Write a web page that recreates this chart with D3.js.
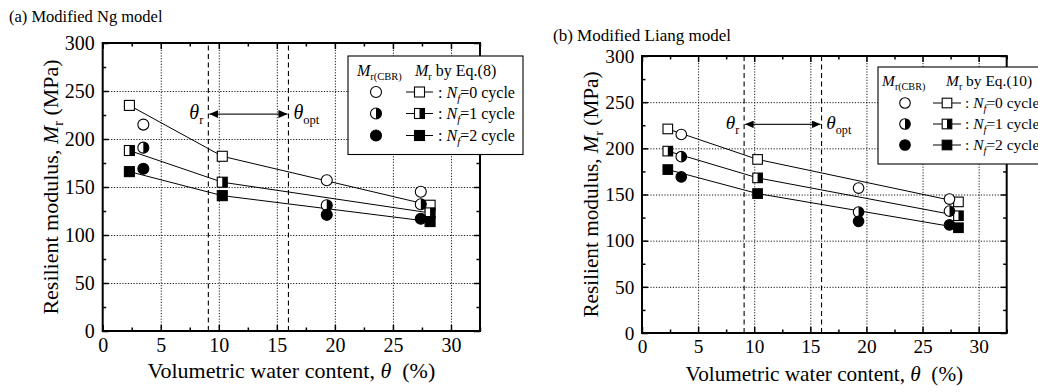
<!DOCTYPE html>
<html><head><meta charset="utf-8">
<script src="https://cdn.jsdelivr.net/npm/d3@7"></script>
<style>
body{margin:0;background:#fff;}
svg, svg text, svg tspan{font-family:"Liberation Serif","Times New Roman",Times,serif !important;}
</style>
</head><body>
<svg id="c" width="1038" height="392"></svg>
<script>
// ---- data ----
const xModel = [2.3, 10.3, 28.2];
const xCBR = [3.5, 19.3, 27.4];
const cbr0 = [215, 157, 145];
const cbr1 = [191, 131, 132];
const cbr2 = [169, 121, 117];
const ng0 = [235, 182, 131];
const ng1 = [188, 155, 123];
const ng2 = [166, 141, 114];
const liang0 = [221, 188, 142];
const liang1 = [197, 168, 127];
const liang2 = [177, 151, 114];
const thetaR = 9.1, thetaOpt = 16.0;
const arrowLevel = 226;
const xTicks = [0, 5, 10, 15, 20, 25, 30];
const yTicks = [0, 50, 100, 150, 200, 250, 300];
const xMinor = [2.5, 7.5, 12.5, 17.5, 22.5, 27.5, 32.5];
const yMinor = [25, 75, 125, 175, 225, 275];
const cycleLabels = ["0", "1", "2"];
const fills = ["open", "half", "full"];

const svg = d3.select("#c");
const defs = svg.append("defs");
function arrowMarker(id, len, wid) {
  const m = defs.append("marker").attr("id", id)
    .attr("viewBox", "0 0 10 10").attr("refX", 10).attr("refY", 5)
    .attr("markerWidth", len).attr("markerHeight", wid)
    .attr("markerUnits", "userSpaceOnUse").attr("orient", "auto-start-reverse")
    .attr("preserveAspectRatio", "none");
  m.append("path").attr("d", "M0,0 L10,5 L0,10 Z").attr("fill", "#000");
}
arrowMarker("arrA", 9, 8);
arrowMarker("arrB", 8.5, 7.5);

function drawSquare(g, cx, cy, sz, kind) {
  const h = sz / 2;
  g.append("rect").attr("x", cx - h).attr("y", cy - h).attr("width", sz).attr("height", sz)
    .attr("fill", kind === "full" ? "#000" : "#fff");
  if (kind === "half") g.append("rect").attr("x", cx).attr("y", cy - h).attr("width", h).attr("height", sz).attr("fill", "#000");
  g.append("rect").attr("x", cx - h).attr("y", cy - h).attr("width", sz).attr("height", sz)
    .attr("fill", "none").attr("stroke", "#000").attr("stroke-width", 1.1);
}
function drawCircle(g, cx, cy, r, kind) {
  g.append("circle").attr("cx", cx).attr("cy", cy).attr("r", r).attr("fill", kind === "full" ? "#000" : "#fff");
  if (kind === "half") g.append("path")
    .attr("d", `M${cx},${cy - r} A${r},${r} 0 0 1 ${cx},${cy + r} Z`).attr("fill", "#000");
  g.append("circle").attr("cx", cx).attr("cy", cy).attr("r", r).attr("fill", "none")
    .attr("stroke", "#000").attr("stroke-width", 1.1);
}
function subText(sel, parts) {
  let shift = 0;
  parts.forEach(p => {
    const t = sel.append("tspan").text(p.t);
    if (p.i) t.attr("font-style", "italic");
    const want = p.sub ? p.sub : 0;
    if (want !== shift) { t.attr("dy", want - shift); shift = want; }
    if (p.fs) t.attr("font-size", p.fs);
  });
}

function panel(cfg) {
  const g = svg.append("g");
  const s = cfg.s;
  const x = d3.scaleLinear().domain([0, 32.5]).range([cfg.L, cfg.R]);
  const y = d3.scaleLinear().domain([0, 300]).range([cfg.B, cfg.T]);
  const W = cfg.R - cfg.L, H = cfg.B - cfg.T;

  // title
  g.append("text").attr("x", cfg.titleX).attr("y", cfg.titleY).attr("font-size", cfg.titleFs).text(cfg.title);

  // grids
  const gx = g.append("g").attr("transform", `translate(0,${cfg.B})`)
    .call(d3.axisBottom(x).tickValues(xTicks.filter(v => v > 0)).tickSize(-H).tickFormat(""));
  const gy = g.append("g").attr("transform", `translate(${cfg.L},0)`)
    .call(d3.axisLeft(y).tickValues(yTicks.filter(v => v > 0 && v < 300)).tickSize(-W).tickFormat(""));
  [gx, gy].forEach(a => {
    a.select(".domain").remove();
    a.selectAll("line").attr("stroke", "#000").attr("stroke-width", 0.9).attr("stroke-dasharray", "1.2,1.6");
  });

  // theta dashed lines
  [thetaR, thetaOpt].forEach(v => {
    g.append("line").attr("x1", x(v)).attr("x2", x(v)).attr("y1", cfg.B).attr("y2", cfg.T)
      .attr("stroke", "#000").attr("stroke-width", 1.1).attr("stroke-dasharray", "5,3.5");
  });

  // arrow
  g.append("line").attr("x1", x(thetaR) + 1).attr("x2", x(thetaOpt) - 1)
    .attr("y1", y(arrowLevel)).attr("y2", y(arrowLevel))
    .attr("stroke", "#222").attr("stroke-width", 1.2)
    .attr("marker-start", `url(#${cfg.arrow})`).attr("marker-end", `url(#${cfg.arrow})`);
  const tr = g.append("text").attr("x", x(thetaR) - 5 * s).attr("y", y(arrowLevel) + 5 * s)
    .attr("font-size", 20 * s).attr("text-anchor", "end");
  subText(tr, [{ t: "θ", i: true }, { t: "r", sub: 5 * s, fs: 12.5 * s }]);
  const to = g.append("text").attr("x", x(thetaOpt) + 5 * s).attr("y", y(arrowLevel) + 5 * s)
    .attr("font-size", 20 * s);
  subText(to, [{ t: "θ", i: true }, { t: "opt", sub: 5 * s, fs: 12.5 * s }]);

  // model curves, squares, CBR circles
  const line = d3.line().x((d, i) => x(xModel[i])).y(d => y(d));
  cfg.model.forEach(arr => {
    g.append("path").attr("d", line(arr)).attr("fill", "none").attr("stroke", "#000").attr("stroke-width", 1);
  });
  cfg.model.forEach((arr, k) => arr.forEach((v, i) => drawSquare(g, x(xModel[i]), y(v), cfg.sq, fills[k])));
  [cbr0, cbr1, cbr2].forEach((arr, k) => arr.forEach((v, i) => drawCircle(g, x(xCBR[i]), y(v), cfg.cr, fills[k])));

  // frame
  g.append("rect").attr("x", cfg.L).attr("y", cfg.T).attr("width", W).attr("height", H)
    .attr("fill", "none").attr("stroke", "#000").attr("stroke-width", 2);

  // axes with inward ticks
  const fs = 20 * s;
  const ab = g.append("g").attr("transform", `translate(0,${cfg.B})`)
    .call(d3.axisBottom(x).tickValues(xTicks).tickSizeInner(-6).tickSizeOuter(0).tickPadding(7 * s).tickFormat(d3.format("d")));
  const al = g.append("g").attr("transform", `translate(${cfg.L},0)`)
    .call(d3.axisLeft(y).tickValues(yTicks).tickSizeInner(-6).tickSizeOuter(0).tickPadding(8 * s).tickFormat(d3.format("d")));
  const at = g.append("g").attr("transform", `translate(0,${cfg.T})`)
    .call(d3.axisTop(x).tickValues(xTicks).tickSizeInner(-6).tickSizeOuter(0).tickFormat(""));
  const ar = g.append("g").attr("transform", `translate(${cfg.R},0)`)
    .call(d3.axisRight(y).tickValues(yTicks).tickSizeInner(-6).tickSizeOuter(0).tickFormat(""));
  const mb = g.append("g").attr("transform", `translate(0,${cfg.B})`)
    .call(d3.axisBottom(x).tickValues(xMinor).tickSizeInner(-3.5).tickSizeOuter(0).tickFormat(""));
  const mt = g.append("g").attr("transform", `translate(0,${cfg.T})`)
    .call(d3.axisTop(x).tickValues(xMinor).tickSizeInner(-3.5).tickSizeOuter(0).tickFormat(""));
  const ml = g.append("g").attr("transform", `translate(${cfg.L},0)`)
    .call(d3.axisLeft(y).tickValues(yMinor).tickSizeInner(-3.5).tickSizeOuter(0).tickFormat(""));
  const mr = g.append("g").attr("transform", `translate(${cfg.R},0)`)
    .call(d3.axisRight(y).tickValues(yMinor).tickSizeInner(-3.5).tickSizeOuter(0).tickFormat(""));
  [ab, al, at, ar, mb, mt, ml, mr].forEach(a => {
    a.attr("font-family", null);
    a.select(".domain").remove();
    a.selectAll("line").attr("stroke", "#000").attr("stroke-width", 1.5);
    a.selectAll("text").attr("font-size", fs).attr("fill", "#000");
  });

  // axis titles
  const tfs = 22 * s;
  const xt = g.append("text").attr("x", (cfg.L + cfg.R) / 2).attr("y", cfg.xTitleY)
    .attr("text-anchor", "middle").attr("font-size", tfs);
  subText(xt, [{ t: "Volumetric water content, " }, { t: "θ", i: true }, { t: "\u00a0\u00a0(%)" }]);
  const yt = g.append("text").attr("transform", `translate(${cfg.yTitleX},${(cfg.T + cfg.B) / 2}) rotate(-90)`)
    .attr("text-anchor", "middle").attr("font-size", tfs);
  subText(yt, [{ t: "Resilient modulus, " }, { t: "M", i: true }, { t: "r", sub: 5 * s, fs: 14 * s }, { t: " (MPa)", sub: 0 }]);

  // legend
  const Lg = cfg.leg;
  g.append("rect").attr("x", Lg.x).attr("y", Lg.y).attr("width", Lg.w).attr("height", Lg.h)
    .attr("fill", "#fff").attr("stroke", "#000").attr("stroke-width", 1.1);
  const lfs = 16 * s;
  const h1 = g.append("text").attr("x", Lg.h1x).attr("y", Lg.hy).attr("font-size", lfs);
  subText(h1, [{ t: "M", i: true }, { t: "r(CBR)", sub: 4 * s, fs: 10.5 * s }]);
  const h2 = g.append("text").attr("x", Lg.h2x).attr("y", Lg.hy).attr("font-size", lfs);
  subText(h2, [{ t: "M", i: true }, { t: "r", sub: 4 * s, fs: 10.5 * s }, { t: " by Eq.(" + cfg.eq + ")", sub: 0 }]);
  cycleLabels.forEach((c, k) => {
    const ry = Lg.rows[k];
    drawCircle(g, Lg.cx, ry, cfg.cr, fills[k]);
    g.append("line").attr("x1", Lg.lx1).attr("x2", Lg.lx2).attr("y1", ry).attr("y2", ry)
      .attr("stroke", "#000").attr("stroke-width", 1);
    drawSquare(g, (Lg.lx1 + Lg.lx2) / 2, ry, cfg.sq, fills[k]);
    const t = g.append("text").attr("x", Lg.tx).attr("y", ry + 5.5 * s).attr("font-size", lfs);
    subText(t, [{ t: ": " }, { t: "N", i: true }, { t: "f", i: true, sub: 4 * s, fs: 11 * s }, { t: "=" + c + " cycle", sub: 0 }]);
  });
}

panel({
  L: 102.7, R: 480, T: 43, B: 331, s: 1,
  title: "(a) Modified Ng model", titleX: 9, titleY: 22, titleFs: 16.5,
  model: [ng0, ng1, ng2], eq: "8", arrow: "arrA", sq: 10, cr: 5.5,
  xTitleY: 378, yTitleX: 58,
  leg: { x: 348, y: 56, w: 175, h: 98.5, hy: 76, h1x: 357, h2x: 415, rows: [92, 113.5, 135.5], cx: 376, lx1: 406, lx2: 433, tx: 438 }
});
panel({
  L: 642, R: 1006.7, T: 56, B: 333, s: 0.965,
  title: "(b) Modified Liang model", titleX: 553, titleY: 41, titleFs: 17,
  model: [liang0, liang1, liang2], eq: "10", arrow: "arrB", sq: 9.6, cr: 5.3,
  xTitleY: 381, yTitleX: 598,
  leg: { x: 878, y: 67, w: 170, h: 97, hy: 86, h1x: 882, h2x: 946, rows: [103, 124, 145], cx: 905, lx1: 933, lx2: 961, tx: 965 }
});
</script>
</body></html>
